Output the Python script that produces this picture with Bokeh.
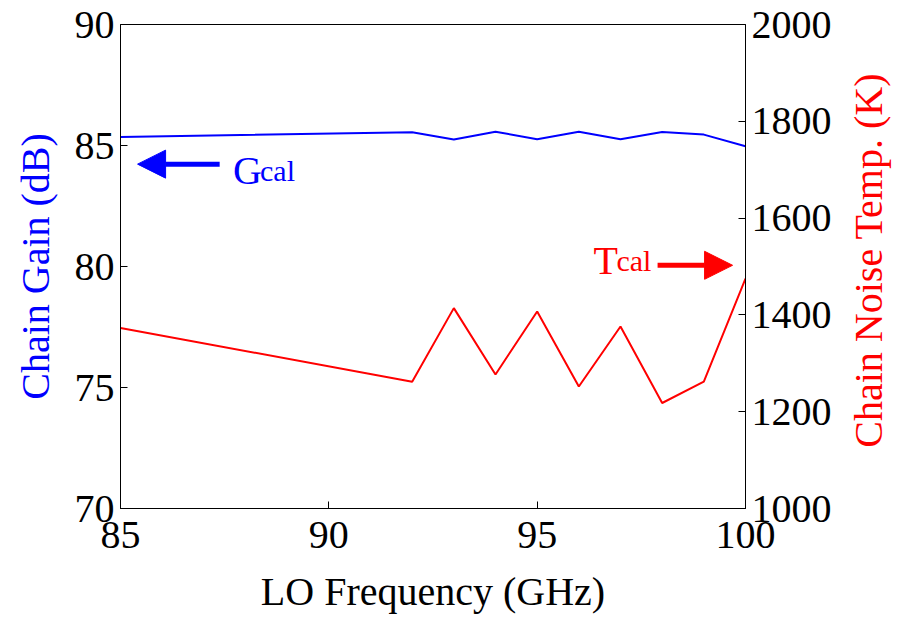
import math
from bokeh.plotting import figure
from bokeh.layouts import row
from bokeh.models import Range1d, LinearAxis, Arrow, NormalHead, Label, FixedTicker
from bokeh.embed import file_html
from bokeh.resources import INLINE

# Data
freq_ghz = [85, 92, 93, 94, 95, 96, 97, 98, 99, 100]
gain_db = [85.35, 85.55, 85.25, 85.57, 85.26, 85.57, 85.26, 85.56, 85.45, 84.97]
noise_temp_k = [1373, 1262, 1414, 1277, 1407, 1252, 1376, 1218, 1262, 1475]

x_ticks = [85, 90, 95, 100]
gain_ticks = [70, 75, 80, 85, 90]
temp_ticks = [1000, 1200, 1400, 1600, 1800, 2000]

FONT = "Liberation Serif"
BLUE = "#0000FF"
RED = "#FF0000"

p = figure(width=845, height=618, output_backend="svg", toolbar_location=None,
           x_range=Range1d(85, 100), y_range=Range1d(70, 90),
           min_border_left=120, min_border_right=100, min_border_top=24,
           min_border_bottom=110)
p.extra_y_ranges = {"temp": Range1d(1000, 2000)}
p.background_fill_color = "white"
p.border_fill_color = "white"
p.outline_line_color = "black"
p.outline_line_width = 1
p.xgrid.visible = False
p.ygrid.visible = False

right_axis = LinearAxis(y_range_name="temp")
p.add_layout(right_axis, "right")

for ax in [p.xaxis[0], p.yaxis[0], right_axis]:
    ax.major_tick_in = 7
    ax.major_tick_out = 0
    ax.minor_tick_in = 0
    ax.minor_tick_out = 0
    ax.axis_line_color = "black"
    ax.major_tick_line_color = "black"
    ax.major_label_text_font = FONT
    ax.major_label_text_font_size = "40px"
    ax.major_label_text_color = "black"
    ax.axis_label_text_font = FONT
    ax.axis_label_text_font_size = "40px"
    ax.axis_label_text_font_style = "normal"

p.xaxis[0].ticker = FixedTicker(ticks=x_ticks)
p.yaxis[0].ticker = FixedTicker(ticks=gain_ticks)
right_axis.ticker = FixedTicker(ticks=temp_ticks)

p.xaxis[0].axis_label = "LO Frequency (GHz)"
p.xaxis[0].axis_label_text_color = "black"
p.xaxis[0].major_label_standoff = 13
p.xaxis[0].axis_label_standoff = 18

p.yaxis[0].axis_label = "Chain Gain (dB)"
p.yaxis[0].axis_label_text_color = BLUE
p.yaxis[0].major_label_standoff = 6
p.yaxis[0].axis_label_standoff = 14

right_axis.major_label_standoff = 6

p.line(freq_ghz, noise_temp_k, y_range_name="temp", line_color=RED, line_width=2)
p.line(freq_ghz, gain_db, line_color=BLUE, line_width=2)

# G_cal annotation (points to left axis)
p.add_layout(Arrow(x_start=87.38, y_start=84.23, x_end=85.41, y_end=84.23,
                   line_color=BLUE, line_width=5,
                   end=NormalHead(size=28, fill_color=BLUE, line_color=BLUE)))
p.add_layout(Label(x=87.7, y=83.40, y_offset=14, text="G", text_font=FONT,
                   text_font_size="40px", text_color=BLUE, text_baseline="alphabetic"))
p.add_layout(Label(x=87.7, y=83.40, x_offset=27, y_offset=14, text="cal", text_font=FONT,
                   text_font_size="30px", text_color=BLUE, text_baseline="alphabetic"))

# T_cal annotation (points to right axis)
p.add_layout(Arrow(x_start=97.89, y_start=80.05, x_end=99.69, y_end=80.05,
                   line_color=RED, line_width=5,
                   end=NormalHead(size=28, fill_color=RED, line_color=RED)))
p.add_layout(Label(x=96.35, y=79.68, y_offset=14, text="T", text_font=FONT,
                   text_font_size="40px", text_color=RED, text_baseline="alphabetic"))
p.add_layout(Label(x=96.35, y=79.68, x_offset=23, y_offset=14, text="cal", text_font=FONT,
                   text_font_size="30px", text_color=RED, text_baseline="alphabetic"))

# Narrow strip holding the right axis title, reading bottom-to-top
p2 = figure(width=57, height=618, output_backend="svg", toolbar_location=None,
            x_range=Range1d(0, 57), y_range=Range1d(0, 618),
            x_axis_type=None, y_axis_type=None,
            min_border_left=0, min_border_right=0, min_border_top=0, min_border_bottom=0)
p2.outline_line_color = None
p2.xgrid.visible = False
p2.ygrid.visible = False
p2.background_fill_color = "white"
p2.border_fill_color = "white"
p2.add_layout(Label(x=23, y=317, angle=math.pi / 2, text="Chain Noise Temp. (K)",
                    text_font=FONT, text_font_size="40px", text_color=RED,
                    text_align="center", text_baseline="middle"))

layout = row(p, p2, spacing=0)
open("out.html", "w").write(file_html(layout, INLINE))
